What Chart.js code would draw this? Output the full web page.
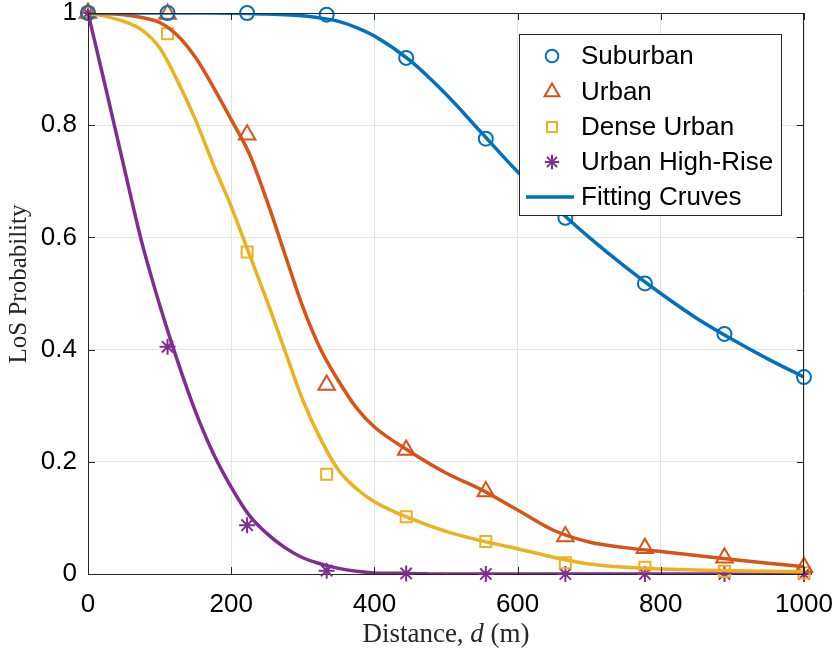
<!DOCTYPE html>
<html>
<head>
<meta charset="utf-8">
<script src="https://cdn.jsdelivr.net/npm/chart.js@4.4.0/dist/chart.umd.min.js"></script>
<style>
  html, body { margin: 0; padding: 0; background: #fff; }
  #wrap { width: 835px; height: 654px; }
</style>
</head>
<body>
<div id="wrap"><canvas id="los-chart" width="835" height="654"></canvas></div>
<script>
// simulated points (markers)
const distSamples = [0, 111.1, 222.2, 333.3, 444.4, 555.6, 666.7, 777.8, 888.9, 1000];
const suburbanPts = [1, 1, 1, 0.997, 0.920, 0.776, 0.635, 0.518, 0.428, 0.351];
const urbanPts = [1, 0.998, 0.783, 0.337, 0.221, 0.147, 0.067, 0.046, 0.029, 0.012];
const densePts = [1, 0.963, 0.574, 0.178, 0.102, 0.058, 0.020, 0.012, 0.005, 0.002];
const highRisePts = [1, 0.405, 0.087, 0.006, 0.001, 0, 0, 0, 0, 0];

// fitting curves
const fitDist = [0, 25, 50, 75, 100, 125, 150, 175, 200, 225, 250, 275, 300, 325, 350, 375, 400,
  450, 500, 550, 600, 650, 700, 750, 800, 850, 900, 950, 1000];
const suburbanFit = [1, 1, 1, 1, 1, 1, 1, 1, 0.9995, 0.999, 0.998, 0.997, 0.995, 0.991, 0.985, 0.974, 0.959,
  0.915, 0.855, 0.786, 0.717, 0.657, 0.600, 0.548, 0.500, 0.456, 0.418, 0.383, 0.351];
const urbanFit = [1, 0.999, 0.997, 0.992, 0.983, 0.960, 0.921, 0.868, 0.810, 0.750, 0.665, 0.570, 0.476, 0.400, 0.344, 0.296, 0.262,
  0.218, 0.180, 0.150, 0.114, 0.078, 0.057, 0.047, 0.040, 0.033, 0.026, 0.019, 0.013];
const denseFit = [1, 0.994, 0.985, 0.970, 0.938, 0.879, 0.810, 0.730, 0.655, 0.571, 0.487, 0.398, 0.310, 0.240, 0.185, 0.152, 0.129,
  0.099, 0.076, 0.059, 0.045, 0.030, 0.018, 0.012, 0.009, 0.007, 0.006, 0.005, 0.004];
const highRiseFit = [1, 0.865, 0.727, 0.592, 0.480, 0.380, 0.290, 0.215, 0.155, 0.105, 0.072, 0.047, 0.029, 0.018, 0.010, 0.005, 0.002,
  0.001, 0, 0, 0, 0, 0, 0, 0, 0, 0, 0, 0];

const seriesNames = ['Suburban', 'Urban', 'Dense Urban', 'Urban High-Rise'];
const fitLabel = 'Fitting Cruves';
const yTitle = 'LoS Probability';
const xTicks = [0, 200, 400, 600, 800, 1000];
const yTicks = [0, 0.2, 0.4, 0.6, 0.8, 1];

const colors = ['#0072BD', '#D95319', '#EDB120', '#7E2F8E'];
const markerStyles = [
  { pointStyle: 'circle', radius: 7 },
  { pointStyle: 'triangle', radius: 9.5 },
  { pointStyle: 'rect', radius: 7.8 },
  { pointStyle: 'star', radius: 8 }
];

const tickFont = { family: '"Liberation Sans", Arial, sans-serif', size: 26, lineHeight: 1 };
const labelFont = '"Liberation Serif", "Times New Roman", serif';
const axisColor = '#262626';

function toXY(xs, ys) {
  return xs.map((x, i) => ({ x: x, y: ys[i] }));
}

const pointSets = [suburbanPts, urbanPts, densePts, highRisePts];
const fitSets = [suburbanFit, urbanFit, denseFit, highRiseFit];

const datasets = [];
fitSets.forEach((ys, i) => {
  datasets.push({
    label: i === 0 ? fitLabel : seriesNames[i] + ' fit',
    data: toXY(fitDist, ys),
    borderColor: colors[i],
    borderWidth: 3.5,
    pointRadius: 0,
    showLine: true,
    cubicInterpolationMode: 'monotone',
    fill: false
  });
});
pointSets.forEach((ys, i) => {
  datasets.push({
    label: seriesNames[i],
    data: toXY(distSamples, ys),
    showLine: false,
    borderColor: colors[i],
    backgroundColor: 'rgba(0,0,0,0)',
    pointStyle: markerStyles[i].pointStyle,
    pointRadius: markerStyles[i].radius,
    pointBorderWidth: 2,
    clip: false
  });
});

// box, inward ticks, axis labels (italic d) and legend
const matlabFrame = {
  id: 'matlabFrame',
  afterDatasetsDraw(chart) {
    const ctx = chart.ctx;
    const a = chart.chartArea;
    const xs = chart.scales.x, ys = chart.scales.y;
    ctx.save();
    ctx.strokeStyle = axisColor;
    ctx.lineWidth = 1;
    ctx.beginPath();
    ctx.moveTo(a.left, a.top + 0.5); ctx.lineTo(a.right, a.top + 0.5);
    ctx.moveTo(a.right - 0.5, a.top); ctx.lineTo(a.right - 0.5, a.bottom);
    xTicks.forEach(v => {
      const px = Math.round(xs.getPixelForValue(v)) + 0.5;
      ctx.moveTo(px, a.bottom); ctx.lineTo(px, a.bottom - 7);
      ctx.moveTo(px, a.top); ctx.lineTo(px, a.top + 7);
    });
    yTicks.forEach(v => {
      const py = Math.round(ys.getPixelForValue(v)) + 0.5;
      ctx.moveTo(a.left, py); ctx.lineTo(a.left + 7, py);
      ctx.moveTo(a.right, py); ctx.lineTo(a.right - 7, py);
    });
    ctx.stroke();

    // x axis label
    const parts = [
      { t: 'Distance, ', f: '27px ' + labelFont },
      { t: 'd', f: 'italic 27px ' + labelFont },
      { t: ' (m)', f: '27px ' + labelFont }
    ];
    let total = 0;
    parts.forEach(p => { ctx.font = p.f; p.w = ctx.measureText(p.t).width; total += p.w; });
    let cx = (a.left + a.right) / 2 - total / 2;
    ctx.fillStyle = axisColor;
    ctx.textBaseline = 'alphabetic';
    ctx.textAlign = 'left';
    parts.forEach(p => { ctx.font = p.f; ctx.fillText(p.t, cx, 642); cx += p.w; });

    // y axis label
    ctx.save();
    ctx.translate(19, 284);
    ctx.rotate(-Math.PI / 2);
    ctx.font = '25px ' + labelFont;
    ctx.textAlign = 'center';
    ctx.textBaseline = 'middle';
    ctx.fillText(yTitle, 0, 0);
    ctx.restore();

    // legend
    const box = { l: 519, t: 34, r: 782, b: 216 };
    ctx.fillStyle = '#ffffff';
    ctx.fillRect(box.l, box.t, box.r - box.l, box.b - box.t);
    ctx.strokeStyle = '#262626';
    ctx.lineWidth = 1;
    ctx.strokeRect(box.l + 0.5, box.t + 0.5, box.r - box.l - 1, box.b - box.t - 1);
    const rows = [56, 92, 127, 162, 197];
    ctx.font = '26px "Liberation Sans", Arial, sans-serif';
    ctx.textBaseline = 'middle';
    ctx.textAlign = 'left';
    seriesNames.forEach((name, i) => {
      ctx.strokeStyle = colors[i];
      ctx.fillStyle = 'rgba(0,0,0,0)';
      ctx.lineWidth = 2;
      Chart.helpers.drawPoint(ctx, {
        pointStyle: markerStyles[i].pointStyle,
        radius: markerStyles[i].radius * 0.9,
        borderWidth: 2,
        rotation: 0
      }, 552, rows[i]);
      ctx.fillStyle = '#000';
      ctx.fillText(name, 581, rows[i] + 1);
    });
    ctx.strokeStyle = colors[0];
    ctx.lineWidth = 3.5;
    ctx.beginPath();
    ctx.moveTo(526, rows[4]); ctx.lineTo(574, rows[4]);
    ctx.stroke();
    ctx.fillStyle = '#000';
    ctx.fillText(fitLabel, 581, rows[4] + 1);
    ctx.restore();
  }
};

const ctx = document.getElementById('los-chart').getContext('2d');
const losChart = new Chart(ctx, {
  type: 'scatter',
  data: { datasets: datasets },
  options: {
    responsive: false,
    animation: false,
    devicePixelRatio: 1,
    layout: { padding: { left: 0, right: 31, top: 13, bottom: 0 } },
    plugins: {
      legend: { display: false },
      tooltip: { enabled: false }
    },
    scales: {
      x: {
        type: 'linear',
        min: 0,
        max: 1000,
        afterFit: s => { s.height = 80; s.paddingLeft = 0; s.paddingRight = 0; },
        afterBuildTicks: s => { s.ticks = xTicks.map(v => ({ value: v })); },
        ticks: { font: tickFont, color: '#000', padding: 18, maxRotation: 0, callback: v => String(v) },
        grid: { color: '#e3e3e3', drawTicks: false },
        border: { color: axisColor, width: 1 }
      },
      y: {
        min: 0,
        max: 1,
        afterFit: s => { s.width = 88; s.paddingTop = 0; s.paddingBottom = 0; },
        afterBuildTicks: s => { s.ticks = yTicks.map(v => ({ value: v })); },
        ticks: { font: tickFont, color: '#000', padding: 11, callback: v => String(v) },
        grid: { color: '#e3e3e3', drawTicks: false },
        border: { color: axisColor, width: 1 }
      }
    }
  },
  plugins: [matlabFrame]
});
</script>
</body>
</html>
